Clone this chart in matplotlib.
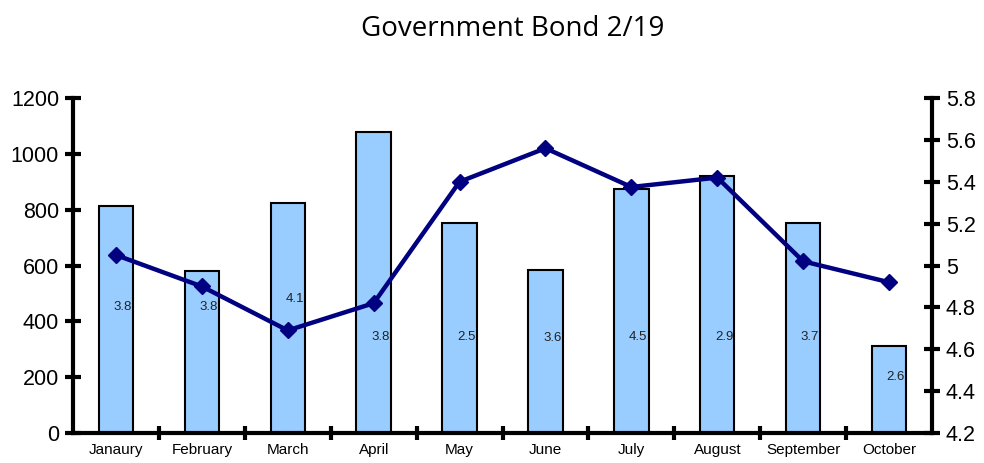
import numpy as np
import matplotlib.pyplot as plt

months = ['Janaury', 'February', 'March', 'April', 'May', 'June',
          'July', 'August', 'September', 'October']
volume = [813, 580, 824, 1078, 752, 584, 874, 920, 752, 312]
yield_pct = [5.05, 4.90, 4.69, 4.82, 5.40, 5.56, 5.375, 5.42, 5.02, 4.92]
bar_labels = ['3.8', '3.8', '4.1', '3.8', '2.5', '3.6', '4.5', '2.9', '3.7', '2.6']
label_height = [451, 451, 480, 344, 344, 342, 344, 344, 344, 200]

fig = plt.figure(figsize=(9.84, 4.63), dpi=100)
ax = fig.add_axes([0.0742, 0.0648, 0.8730, 0.7235])
x = np.arange(len(months))

ax.bar(x, volume, width=0.4, color='#99CCFF', edgecolor='black', linewidth=1.5, zorder=2)
for xi, lab, h in zip(x, bar_labels, label_height):
    ax.text(xi + 0.08, h, lab, ha='center', va='center', fontsize=9.5,
            family='Liberation Sans', color='#222222', zorder=3)

ax.set_xlim(-0.5, len(months) - 0.5)
ax.set_ylim(0, 1200)
ax.set_yticks(range(0, 1201, 200))
ax.set_xticks(x)
ax.set_xticklabels(months, family='Liberation Sans', fontsize=11)
ax.set_xticks(np.arange(0.5, len(months) - 1, 1), minor=True)
ax.tick_params(axis='x', which='major', length=0, pad=7)
ax.tick_params(axis='x', which='minor', direction='inout', length=10, width=3)
ax.tick_params(axis='y', direction='inout', length=12, width=3, labelsize=15.5, pad=4)
for lab in ax.get_yticklabels():
    lab.set_family('Liberation Sans')
for s in ['left', 'bottom']:
    ax.spines[s].set_linewidth(3)
ax.spines['top'].set_visible(False)
ax.spines['right'].set_visible(False)

ax2 = ax.twinx()
ax2.plot(x, yield_pct, color='#000080', linewidth=3.2, marker='D', markersize=8, zorder=4)
ax2.set_ylim(4.2, 5.8)
ax2.set_yticks(np.arange(4.2, 5.81, 0.2))
ax2.set_yticklabels(['4.2', '4.4', '4.6', '4.8', '5', '5.2', '5.4', '5.6', '5.8'],
                    family='Liberation Sans', fontsize=15.5)
ax2.tick_params(axis='y', direction='inout', length=12, width=3, pad=4)
ax2.spines['right'].set_linewidth(3)
for s in ['top', 'left', 'bottom']:
    ax2.spines[s].set_visible(False)

fig.text(0.521, 0.938, 'Government Bond 2/19', ha='center', va='center',
         fontsize=20, family='Open Sans')

fig.savefig('out.png', dpi=100)
